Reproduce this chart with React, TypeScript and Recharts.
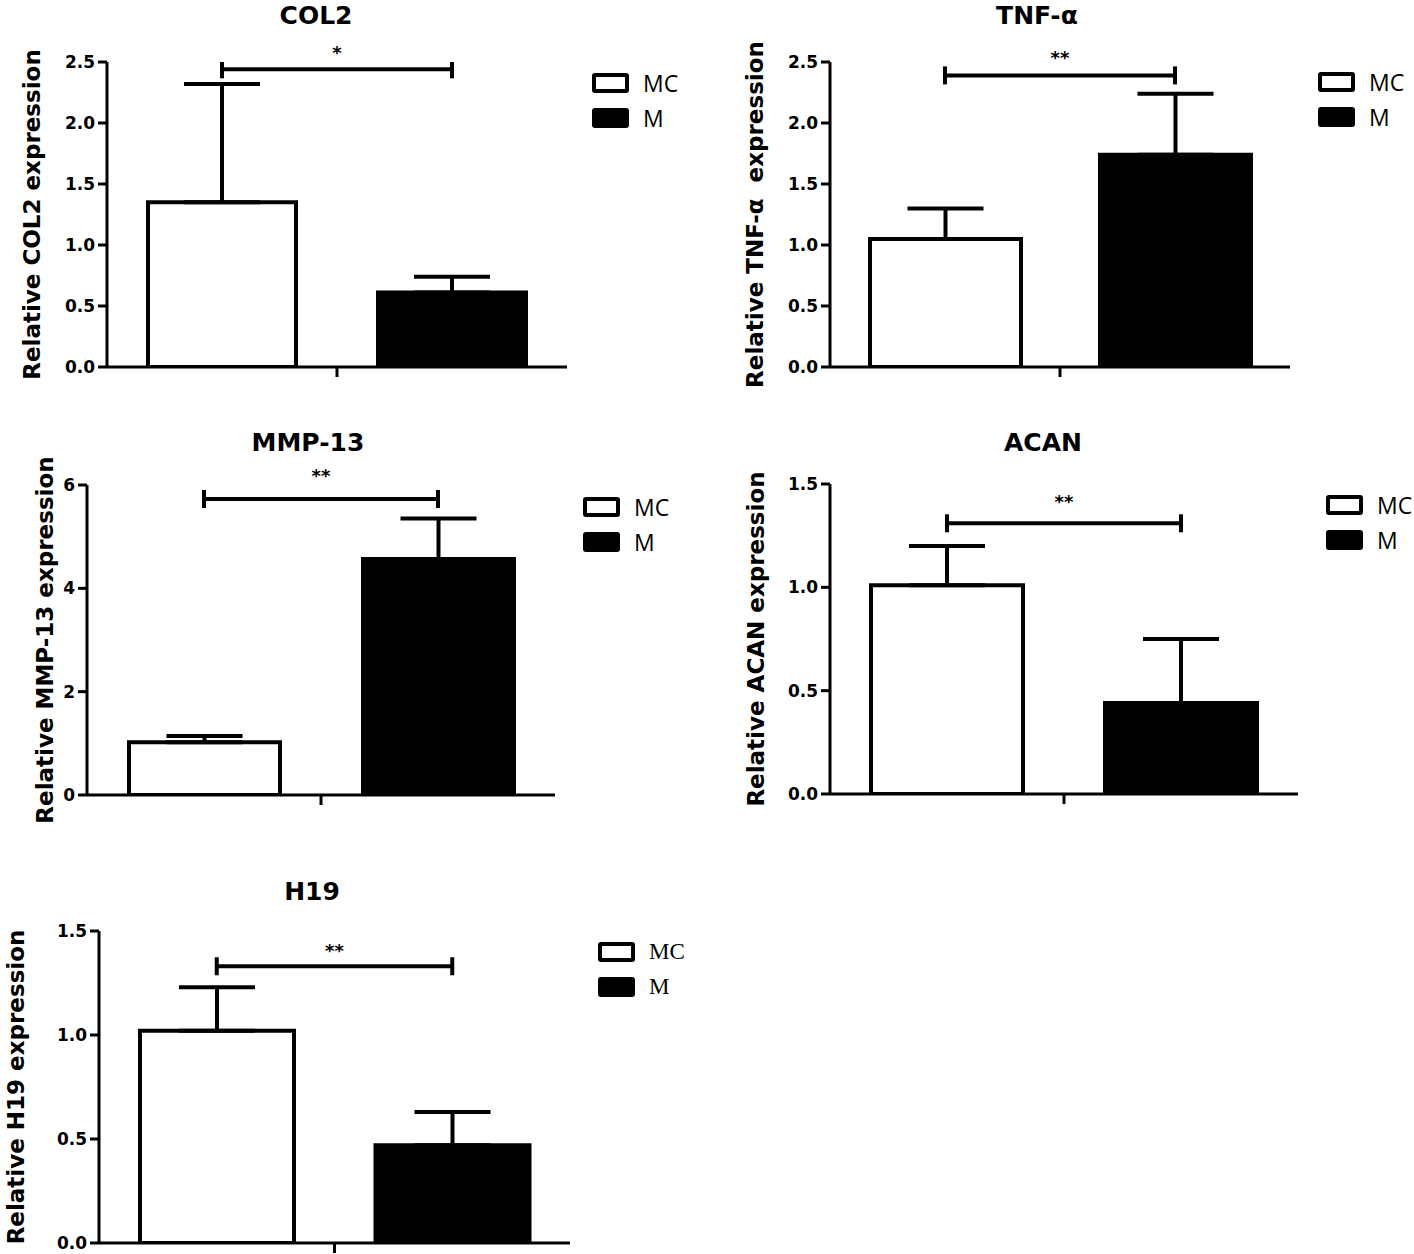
import React from 'react'
import {
  ComposedChart, Bar, Cell, ErrorBar, Line, XAxis, YAxis, ReferenceDot,
} from 'recharts'

const GROUPS = ['MC', 'M']
const GROUP_FILLS = ['#ffffff', '#000000']

const COL2_MEAN = [1.35, 0.61]
const COL2_ERR = [0.97, 0.13]
const COL2_BRACKET = 2.44
const COL2_TICKS = [0, 0.5, 1, 1.5, 2, 2.5]

const TNF_MEAN = [1.05, 1.74]
const TNF_ERR = [0.25, 0.5]
const TNF_BRACKET = 2.39
const TNF_TICKS = [0, 0.5, 1, 1.5, 2, 2.5]

const MMP13_MEAN = [1.02, 4.57]
const MMP13_ERR = [0.12, 0.78]
const MMP13_BRACKET = 5.73
const MMP13_TICKS = [0, 2, 4, 6]

const ACAN_MEAN = [1.01, 0.44]
const ACAN_ERR = [0.19, 0.31]
const ACAN_BRACKET = 1.31
const ACAN_TICKS = [0, 0.5, 1, 1.5]

const H19_MEAN = [1.02, 0.47]
const H19_ERR = [0.21, 0.16]
const H19_BRACKET = 1.33
const H19_TICKS = [0, 0.5, 1, 1.5]

const SANS = '"DejaVu Sans", Verdana, sans-serif'
const LEGEND_SANS = '"Open Sans", sans-serif'
const LEGEND_SERIF = '"Liberation Serif", "Times New Roman", serif'

const YW = 100
const MT = 60
const MR = 10
const MB = 40
const XH = 14

// layout only: pixel placement of each panel
const PANELS = [
  {
    title: 'COL2', yLabel: 'Relative COL2 expression', star: '*',
    mean: COL2_MEAN, err: COL2_ERR, bracket: COL2_BRACKET, ticks: COL2_TICKS, decimals: 1,
    axisX: 107, topY: 62, bottomY: 367, rightX: 567, labelDx: -75,
    titleX: 316, titleY: 16, legendX: 592, legendY: 73, barSize: 148, starOffset: 10,
    legendFont: LEGEND_SANS,
  },
  {
    title: 'TNF-α', yLabel: 'Relative TNF-α  expression', star: '**',
    mean: TNF_MEAN, err: TNF_ERR, bracket: TNF_BRACKET, ticks: TNF_TICKS, decimals: 1,
    axisX: 830, topY: 62, bottomY: 367, rightX: 1290, labelDx: -75,
    titleX: 1037, titleY: 16, legendX: 1318, legendY: 72, barSize: 151, starOffset: 11,
    legendFont: LEGEND_SANS,
  },
  {
    title: 'MMP-13', yLabel: 'Relative MMP-13 expression', star: '**',
    mean: MMP13_MEAN, err: MMP13_ERR, bracket: MMP13_BRACKET, ticks: MMP13_TICKS, decimals: 0,
    axisX: 87, topY: 485, bottomY: 795, rightX: 555, labelDx: -42,
    titleX: 308, titleY: 443, legendX: 583, legendY: 497, barSize: 151, starOffset: 17,
    legendFont: LEGEND_SANS,
  },
  {
    title: 'ACAN', yLabel: 'Relative ACAN expression', star: '**',
    mean: ACAN_MEAN, err: ACAN_ERR, bracket: ACAN_BRACKET, ticks: ACAN_TICKS, decimals: 1,
    axisX: 830, topY: 484, bottomY: 794, rightX: 1298, labelDx: -74,
    titleX: 1043, titleY: 443, legendX: 1326, legendY: 495, barSize: 152, starOffset: 15,
    legendFont: LEGEND_SANS,
  },
  {
    title: 'H19', yLabel: 'Relative H19 expression', star: '**',
    mean: H19_MEAN, err: H19_ERR, bracket: H19_BRACKET, ticks: H19_TICKS, decimals: 1,
    axisX: 99, topY: 931, bottomY: 1243, rightX: 570, labelDx: -83,
    titleX: 312, titleY: 892, legendX: 598, legendY: 942, barSize: 154, starOffset: 9,
    legendFont: LEGEND_SERIF,
  },
]

type PanelCfg = typeof PANELS[number]

const yTitle = (text: string, dx: number) => (props: any) => {
  const vb = props.viewBox
  const cx = vb.x + vb.width + dx
  const cy = vb.y + vb.height / 2
  return (
    <text
      x={cx}
      y={cy}
      transform={`rotate(-90 ${cx} ${cy})`}
      textAnchor="middle"
      dominantBaseline="central"
      fill="#000"
      fontSize={23}
      fontWeight="bold"
      fontFamily={SANS}
      style={{ whiteSpace: 'pre' }}
    >
      {text}
    </text>
  )
}

// single tick between the two groups, like the original's centred x tick
const midTick = (midX: number) => (props: any) => {
  if (props.index !== 0) return <g />
  return (
    <line x1={midX} x2={midX} y1={props.y} y2={props.y + 10} stroke="#000" strokeWidth={3} />
  )
}

const bracketEnd = (p: any) => (
  <line
    key={`end-${p.index}`}
    x1={p.cx}
    x2={p.cx}
    y1={p.cy - 9}
    y2={p.cy + 9}
    stroke="#000"
    strokeWidth={4}
  />
)

function Legend({ x, y, font }: { x: number; y: number; font: string }) {
  return (
    <div style={{ position: 'absolute', left: x, top: y }}>
      {GROUPS.map((g, i) => (
        <div key={g} style={{ display: 'flex', alignItems: 'center', height: 20, marginBottom: 15 }}>
          <div
            style={{
              width: 37, height: 20, boxSizing: 'border-box', border: '4px solid #000',
              borderRadius: 3, background: GROUP_FILLS[i],
            }}
          />
          <span style={{ marginLeft: 14, fontFamily: font, fontSize: 23, lineHeight: '20px', color: '#000' }}>
            {g}
          </span>
        </div>
      ))}
    </div>
  )
}

function Panel({ p }: { p: PanelCfg }) {
  const data = GROUPS.map((g, i) => ({
    group: g,
    mean: p.mean[i],
    err: [0, p.err[i]],
    bracket: p.bracket,
  }))
  const plotW = p.rightX - p.axisX
  const plotH = p.bottomY - p.topY
  const width = YW + plotW + MR
  const height = MT + plotH + XH + MB
  const max = p.ticks[p.ticks.length - 1]

  return (
    <>
      <div
        style={{
          position: 'absolute', left: p.titleX - 150, width: 300, top: p.titleY - 15,
          textAlign: 'center', fontFamily: SANS, fontWeight: 'bold', fontSize: 25, lineHeight: '30px',
        }}
      >
        {p.title}
      </div>
      <div style={{ position: 'absolute', left: p.axisX - YW, top: p.topY - MT }}>
        <ComposedChart
          width={width}
          height={height}
          data={data}
          margin={{ top: MT, right: MR, bottom: MB, left: 0 }}
        >
          <XAxis
            xAxisId="cat"
            dataKey="group"
            type="category"
            height={XH}
            tickSize={0}
            tickMargin={0}
            tickLine={false}
            axisLine={{ stroke: '#000', strokeWidth: 3 }}
            tick={midTick(YW + plotW / 2)}
            interval={0}
          />
          <XAxis xAxisId="mid" type="number" domain={[0, 1]} allowDataOverflow hide />
          <YAxis
            width={YW}
            domain={[0, max]}
            ticks={p.ticks}
            interval={0}
            allowDataOverflow
            tickFormatter={(v: number) => v.toFixed(p.decimals)}
            tickSize={9}
            tickMargin={3}
            axisLine={{ stroke: '#000', strokeWidth: 3 }}
            tickLine={{ stroke: '#000', strokeWidth: 3 }}
            tick={{ fill: '#000', fontSize: 17, fontWeight: 'bold', fontFamily: SANS }}
            label={{ content: yTitle(p.yLabel, p.labelDx) }}
          />
          <Bar
            xAxisId="cat"
            dataKey="mean"
            barSize={p.barSize}
            stroke="#000"
            strokeWidth={4}
            isAnimationActive={false}
          >
            {data.map((d, i) => (
              <Cell key={d.group} fill={GROUP_FILLS[i]} stroke="#000" strokeWidth={4} />
            ))}
            <ErrorBar dataKey="err" direction="y" width={38} stroke="#000" strokeWidth={4} />
          </Bar>
          <Line
            xAxisId="cat"
            dataKey="bracket"
            stroke="#000"
            strokeWidth={4}
            dot={bracketEnd}
            activeDot={false}
            isAnimationActive={false}
          />
          <ReferenceDot
            xAxisId="mid"
            x={0.5}
            y={p.bracket}
            r={0}
            stroke="none"
            label={{
              value: p.star, position: 'top', offset: p.starOffset,
              fill: '#000', fontSize: 18, fontWeight: 'bold', fontFamily: SANS,
            }}
          />
        </ComposedChart>
      </div>
      <Legend x={p.legendX} y={p.legendY} font={p.legendFont} />
    </>
  )
}

export default function App() {
  return (
    <div
      style={{
        position: 'absolute', left: 0, top: 0, width: 1414, height: 1254,
        overflow: 'hidden', background: '#fff',
      }}
    >
      {PANELS.map(p => (
        <Panel key={p.title} p={p} />
      ))}
    </div>
  )
}
